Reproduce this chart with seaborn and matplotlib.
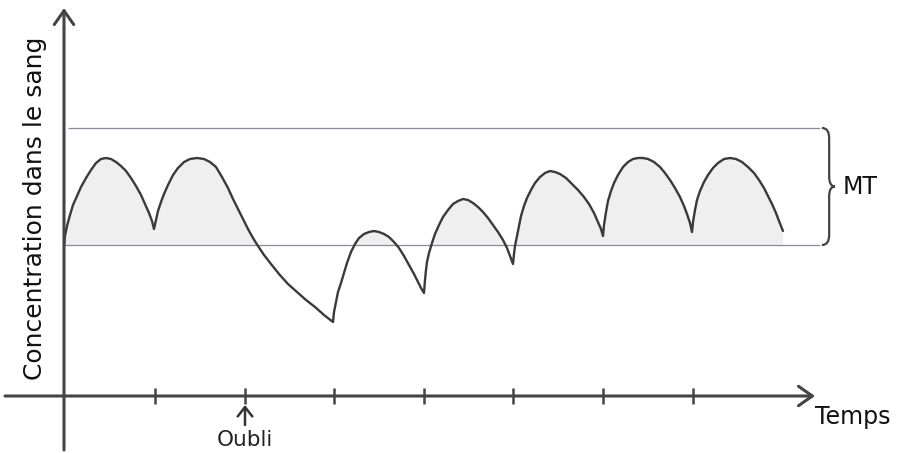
import numpy as np
import pandas as pd
import matplotlib
matplotlib.use("Agg")
import matplotlib.pyplot as plt
from matplotlib.path import Path
from matplotlib.patches import PathPatch
import seaborn as sns

# blood concentration over time (arbitrary units)
time = [0, 1, 3, 6, 9, 13, 17, 22, 27, 32, 37, 42, 47, 52, 57, 62, 67, 72, 77, 81, 85, 88, 90,
        92, 94, 97, 100, 104, 109, 114, 120, 126, 133, 140, 146, 152, 158, 164, 169, 174, 179, 184,
        189, 194, 200, 207, 215, 224, 233, 242, 251, 260, 269,
        270, 272, 274, 277, 280, 283, 287, 291, 295, 300, 305, 310, 315, 320, 325, 330, 335, 340,
        345, 350, 354, 357, 360,
        361, 362, 363, 365, 368, 371, 375, 379, 384, 389, 394, 399, 404, 409, 414, 419, 424, 429,
        434, 439, 443, 446, 449,
        450, 451, 453, 455, 457, 460, 463, 467, 471, 476, 481, 486, 491, 496, 502, 508, 514, 520,
        525, 530, 534, 537, 539,
        540, 542, 544, 547, 550, 554, 559, 564, 569, 574, 579, 584, 590, 596, 601, 606, 611, 616,
        620, 623, 626, 628,
        629, 631, 633, 636, 640, 644, 649, 654, 660, 666, 672, 678, 684, 690, 695, 700, 704, 708,
        712, 715, 717, 719]
conc = [151, 160, 170, 181, 191, 200, 209, 218, 226, 233, 237, 238, 237, 234, 230, 225, 218, 210, 201, 192, 183, 175, 167,
        176, 185, 194, 202, 211, 221, 228, 234, 237, 238, 237, 234, 229, 219, 208, 197, 187, 177, 167,
        158, 150, 141, 132, 122, 112, 104, 96, 89, 81, 74,
        84, 94, 104, 113, 123, 133, 144, 152, 158, 162, 164, 165, 164, 162, 159, 154, 148, 140,
        131, 122, 114, 108, 103,
        116, 126, 134, 143, 153, 162, 171, 179, 186, 192, 195, 197, 196, 193, 189, 184, 178, 171,
        164, 156, 148, 140, 132,
        142, 150, 160, 170, 180, 190, 198, 206, 213, 219, 223, 225, 224, 222, 218, 212, 206, 199,
        192, 183, 174, 167, 160,
        171, 184, 195, 205, 213, 221, 229, 234, 237, 238, 238, 237, 234, 229, 223, 216, 208, 199,
        190, 182, 173, 164,
        174, 186, 196, 205, 214, 221, 228, 233, 237, 238, 237, 234, 229, 223, 216, 208, 200, 192,
        183, 175, 170, 165]

# therapeutic window (MT)
mt_low = 151
mt_high = 268
mt_end = 756

# dose ticks on the time axis, the forgotten one
dose_ticks = [91, 181, 270, 360, 449, 539, 629]
forgot_at = 181

ylabel = "Concentration dans le sang"
xlabel = "Temps"
band_label = "MT"
forgot_label = "Oubli"

ink = "#3a3a3a"
band_col = "#8a8a9c"

sns.set_theme(style="white")
plt.rcParams["font.family"] = ["DejaVu Sans"]

df = pd.DataFrame({"time": time, "conc": conc})

fig = plt.figure(figsize=(9, 4.53), dpi=100)
ax = fig.add_axes([0, 0, 1, 1])
ax.set_xlim(-64, 836)
ax.set_ylim(-57, 396)
ax.axis("off")

# shaded part of the curve inside the window
t = np.array(time, dtype=float)
c = np.array(conc, dtype=float)
ax.fill_between(t, mt_low, c, where=c >= mt_low, interpolate=True,
                color="#efefef", lw=0, zorder=1)

# window limits
ax.hlines(mt_low, 0, mt_end, color=band_col, lw=0.9, zorder=2)
ax.hlines(mt_high, 4, mt_end, color=band_col, lw=0.9, zorder=2)

sns.lineplot(data=df, x="time", y="conc", sort=False, estimator=None,
             color=ink, lw=1.7, ax=ax, zorder=3)
ax.lines[-1].set_solid_joinstyle("round")

# axes drawn by hand with arrows
arrow_kw = dict(arrowstyle="->,head_length=0.5,head_width=0.35", lw=2.2,
                color="#444444", mutation_scale=20, shrinkA=0, shrinkB=0)
ax.annotate("", xy=(751, 0), xytext=(-59, 0), arrowprops=arrow_kw)
ax.annotate("", xy=(0, 388), xytext=(0, -54), arrowprops=arrow_kw)
ax.vlines(dose_ticks, -8, 8, color="#444444", lw=1.8)

# forgotten dose
ax.annotate("", xy=(forgot_at, -9), xytext=(forgot_at, -29),
            arrowprops=dict(arrowstyle="->,head_length=0.45,head_width=0.35", lw=1.8,
                            color="#333333", mutation_scale=15, shrinkA=0, shrinkB=0))
ax.text(forgot_at, -44, forgot_label, ha="center", va="center", fontsize=15.5, color="#222222")

ax.text(751, -21, xlabel, ha="left", va="center", fontsize=17, color="#111111")
ax.text(-29, 188, ylabel, ha="center", va="center", rotation=90, fontsize=18, color="#111111")


def brace(ax, x0, y0, y1, w):
    # curly brace from y0 to y1, opening to the left at x0
    xm = x0 + w * 0.55
    xp = x0 + w
    ym = (y0 + y1) / 2
    r = 10
    verts = [(x0, y1), (xm, y1), (xm, y1 - r),
             (xm, ym + r), (xm, ym), (xp, ym),
             (xm, ym), (xm, ym - r),
             (xm, y0 + r), (xm, y0), (x0, y0)]
    codes = [Path.MOVETO, Path.CURVE3, Path.CURVE3,
             Path.LINETO, Path.CURVE3, Path.CURVE3,
             Path.CURVE3, Path.CURVE3,
             Path.LINETO, Path.CURVE3, Path.CURVE3]
    ax.add_patch(PathPatch(Path(verts, codes), fill=False, lw=1.6, color="#444444"))


brace(ax, mt_end + 2, mt_low, mt_high, 13)
ax.text(mt_end + 23, (mt_low + mt_high) / 2, band_label, ha="left", va="center",
        fontsize=17, color="#111111")

fig.savefig("out.png", dpi=100)
